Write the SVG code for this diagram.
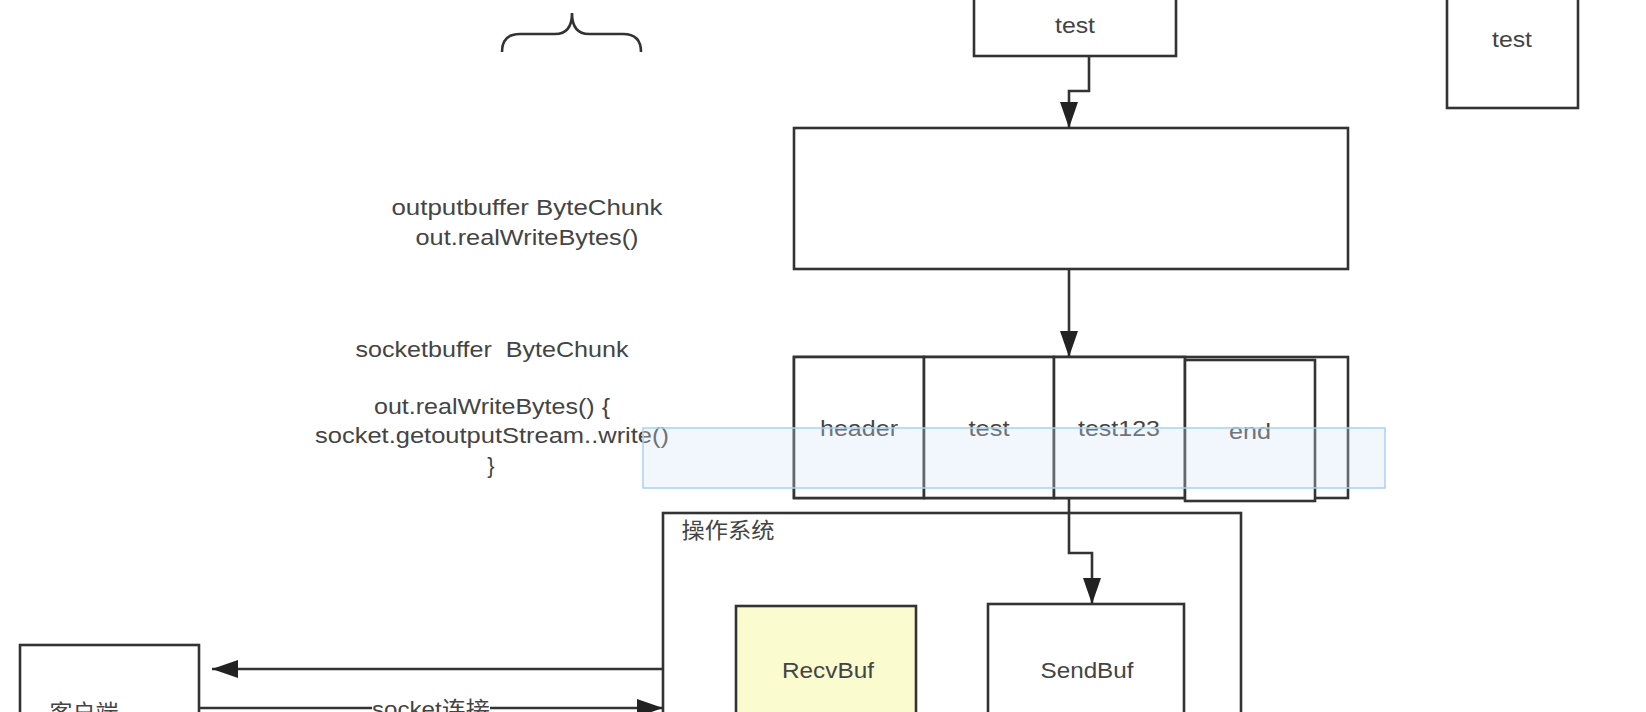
<svg xmlns="http://www.w3.org/2000/svg" width="1646" height="712" viewBox="0 0 1646 712">
<style>
.box{fill:#fff;stroke:#333;stroke-width:2.6}
.ln{fill:none;stroke:#333;stroke-width:2.6}
text{font-family:"Liberation Sans","Noto Sans CJK SC",sans-serif;font-size:22px;fill:#444;text-anchor:middle}
</style>
<defs>
<marker id="ah" markerUnits="userSpaceOnUse" markerWidth="27" markerHeight="18" refX="26" refY="9" orient="auto">
<path d="M0,0 L26,9 L0,18 Z" fill="#222"/>
</marker>
</defs>
<rect width="1646" height="712" fill="#fff"/>
<path class="ln" d="M502,52 Q502,34 520,34 L555,34 Q572,34 572,13 Q572,34 589,34 L623,34 Q641,34 641,52"/>
<g id="labels">
<text x="527" y="215" textLength="271" lengthAdjust="spacingAndGlyphs">outputbuffer ByteChunk</text>
<text x="527" y="245" textLength="223" lengthAdjust="spacingAndGlyphs">out.realWriteBytes()</text>
<text x="492" y="357" textLength="273" lengthAdjust="spacingAndGlyphs" xml:space="preserve">socketbuffer  ByteChunk</text>
<text x="492" y="414" textLength="236" lengthAdjust="spacingAndGlyphs">out.realWriteBytes() {</text>
<text x="492" y="443" textLength="354" lengthAdjust="spacingAndGlyphs">socket.getoutputStream..write()</text>
<text x="491" y="473">}</text>
</g>
<g id="test-top"><rect class="box" x="974" y="-5" width="202" height="61"/><text x="1075" y="33" textLength="40" lengthAdjust="spacingAndGlyphs">test</text></g>
<g id="test-right"><rect class="box" x="1447" y="-5" width="131" height="113"/><text x="1512" y="47" textLength="40" lengthAdjust="spacingAndGlyphs">test</text></g>
<g id="outputbuffer"><rect class="box" x="794" y="128" width="554" height="141"/></g>
<g id="socketbuffer">
<rect class="box" x="794" y="357" width="554" height="141"/>
<rect class="box" x="794" y="357" width="130" height="141"/>
<rect class="box" x="924" y="357" width="130" height="141"/>
<rect class="box" x="1054" y="357" width="131" height="141"/>
<rect class="box" x="1185" y="360" width="130" height="141"/>
<text x="859" y="436" textLength="78" lengthAdjust="spacingAndGlyphs">header</text>
<text x="989" y="436" textLength="41" lengthAdjust="spacingAndGlyphs">test</text>
<text x="1119" y="436" textLength="82" lengthAdjust="spacingAndGlyphs">test123</text>
<text x="1250" y="439" textLength="42" lengthAdjust="spacingAndGlyphs">end</text>
</g>
<rect x="643" y="428" width="742" height="60" fill="#cfe6f7" fill-opacity="0.3" stroke="#a9d1f0" stroke-width="1.5"/>
<g id="os">
<rect class="box" x="663" y="513" width="578" height="260"/>
<text x="728" y="538" textLength="93" lengthAdjust="spacingAndGlyphs">操作系统</text>
</g>
<g id="recvbuf"><rect class="box" x="736" y="606" width="180" height="160" style="fill:#fbfbd0"/><text x="828" y="678" textLength="92" lengthAdjust="spacingAndGlyphs">RecvBuf</text></g>
<g id="sendbuf"><rect class="box" x="988" y="604" width="196" height="160"/><text x="1087" y="678" textLength="93" lengthAdjust="spacingAndGlyphs">SendBuf</text></g>
<g id="client"><rect class="box" x="20" y="645" width="179" height="120"/><text x="84" y="720" textLength="69" lengthAdjust="spacingAndGlyphs">客户端</text></g>
<g id="connectors">
<path class="ln" d="M1089,56 V91 H1069 V128" marker-end="url(#ah)"/>
<path class="ln" d="M1069,269 V357" marker-end="url(#ah)"/>
<path class="ln" d="M1069,498 V553 H1092 V604" marker-end="url(#ah)"/>
<path class="ln" d="M663,669 H212" marker-end="url(#ah)"/>
<path class="ln" d="M200,708 H663" marker-end="url(#ah)"/>
<rect x="372" y="696" width="118" height="24" fill="#fff"/>
<text x="431" y="717" textLength="118" lengthAdjust="spacingAndGlyphs">socket连接</text>
</g>
</svg>
